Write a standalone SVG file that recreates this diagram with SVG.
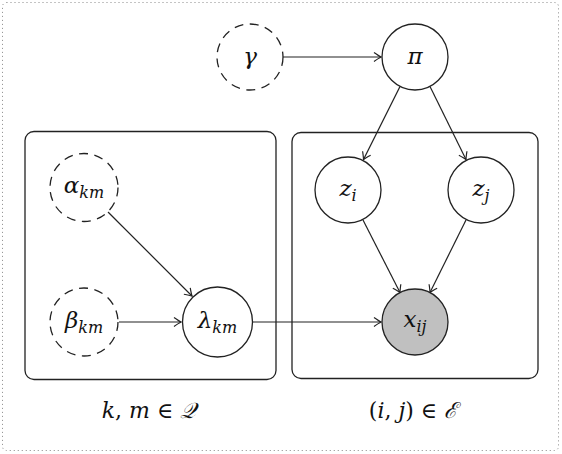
<svg xmlns="http://www.w3.org/2000/svg" width="562" height="454" viewBox="0 0 562 454">
<style>
.node{fill:#fff;stroke:#222;stroke-width:1.3}
.dash{fill:#fff;stroke:#222;stroke-width:1.3;stroke-dasharray:9,6.5}
.obs{fill:#c0c0c0;stroke:#222;stroke-width:1.3}
.plate{fill:none;stroke:#222;stroke-width:1.3}
.lbl{font-family:'DejaVu Serif',serif;font-style:italic;font-size:23px;fill:#111;text-anchor:middle}
.sub{font-size:16px}
.cap{font-family:'DejaVu Serif',serif;font-size:22px;fill:#111;text-anchor:middle}
.edge{stroke:#222;stroke-width:1.2;fill:none;marker-end:url(#arr)}
</style>
<defs>
<marker id="arr" viewBox="-8 -5 9 10" refX="0" refY="0" markerWidth="9" markerHeight="10" markerUnits="userSpaceOnUse" orient="auto">
<path d="M-7,-4.5 Q-2,-1 0,0 Q-2,1 -7,4.5" fill="none" stroke="#222" stroke-width="1.2"/>
</marker>
</defs>
<rect x="2.5" y="2.5" width="556" height="448" rx="4" fill="#fff" stroke="#888" stroke-width="1" stroke-dasharray="1,3"/>
<rect class="plate" x="25" y="131.5" width="251" height="248" rx="9"/>
<rect class="plate" x="292" y="132.5" width="246" height="246" rx="9"/>
<g id="connectors">
<line class="edge" x1="283" y1="57" x2="381" y2="57"/>
<line class="edge" x1="400" y1="86.5" x2="363.5" y2="159.5"/>
<line class="edge" x1="430" y1="86.5" x2="466" y2="159.5"/>
<line class="edge" x1="363" y1="220" x2="400" y2="292.5"/>
<line class="edge" x1="466" y1="220" x2="430" y2="292.5"/>
<line class="edge" x1="108" y1="212" x2="192" y2="296"/>
<line class="edge" x1="119" y1="322" x2="181" y2="322"/>
<line class="edge" x1="253" y1="322" x2="381" y2="322"/>
</g>
<g id="gamma"><circle class="dash" cx="250" cy="57" r="33"/><text class="lbl" x="250" y="64">γ</text></g>
<g id="pi"><circle class="node" cx="415" cy="57" r="33"/><text class="lbl" x="415" y="64">π</text></g>
<g id="z_i"><circle class="node" cx="348" cy="190" r="33"/><text class="lbl" x="348" y="196">z<tspan class="sub" dy="5">i</tspan></text></g>
<g id="z_j"><circle class="node" cx="481" cy="190" r="33"/><text class="lbl" x="481" y="196">z<tspan class="sub" dy="5">j</tspan></text></g>
<g id="x_ij"><circle class="obs" cx="415" cy="322" r="33"/><text class="lbl" x="415" y="327">x<tspan class="sub" dy="5">ij</tspan></text></g>
<g id="alpha"><circle class="dash" cx="84" cy="187.5" r="34"/><text class="lbl" x="84" y="193">α<tspan class="sub" dy="5">km</tspan></text></g>
<g id="beta"><circle class="dash" cx="84" cy="322" r="34"/><text class="lbl" x="84" y="328">β<tspan class="sub" dy="5">km</tspan></text></g>
<g id="lambda"><circle class="node" cx="217.5" cy="322" r="35"/><text class="lbl" x="217.5" y="328">λ<tspan class="sub" dy="5">km</tspan></text></g>
<text class="cap" x="149" y="418"><tspan font-style="italic">k</tspan>, <tspan font-style="italic">m</tspan> ∈ <tspan font-style="italic">𝒬</tspan></text>
<text class="cap" x="413" y="418">(<tspan font-style="italic">i</tspan>, <tspan font-style="italic">j</tspan>) ∈ <tspan font-style="italic">ℰ</tspan></text>
</svg>
